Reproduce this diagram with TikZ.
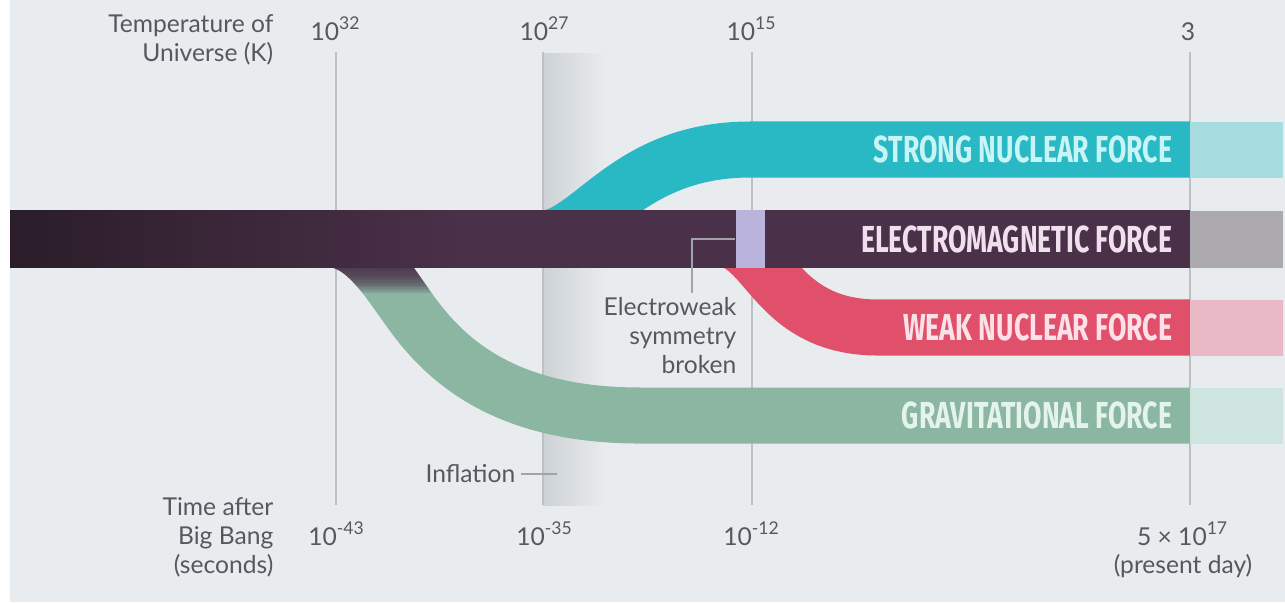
\documentclass[tikz,border=0pt]{standalone}
\usepackage{fontspec}
\setmainfont{Lato}
\newfontfamily\bandfont[FakeStretch=0.71]{Fira Sans}
\usetikzlibrary{positioning}

\definecolor{cPaper}{HTML}{E9ECEE}
\definecolor{cText}{HTML}{55595E}
\definecolor{cGrid}{HTML}{BDC1C5}
\definecolor{cInfl}{HTML}{CDD2D6}
\definecolor{cLead}{HTML}{A0A3A8}
\definecolor{cStrong}{HTML}{29B9C5}
\definecolor{cStrongTxt}{HTML}{C8F4F6}
\definecolor{cStrongFade}{HTML}{A7DCE1}
\definecolor{cEmDark}{HTML}{2B1D29}
\definecolor{cEm}{HTML}{4A3048}
\definecolor{cEmTxt}{HTML}{F0DFEC}
\definecolor{cEmFade}{HTML}{ABA8AE}
\definecolor{cWeak}{HTML}{E0506A}
\definecolor{cWeakTxt}{HTML}{FCE2E8}
\definecolor{cWeakFade}{HTML}{E7BAC5}
\definecolor{cGrav}{HTML}{8BB6A2}
\definecolor{cGravTxt}{HTML}{E4F4EC}
\definecolor{cGravFade}{HTML}{CEE5DF}
\definecolor{cEw}{HTML}{BAB4DC}

% dark on the left, plain from about a third of the way on
\pgfdeclarehorizontalshading{emshade}{100bp}{color(0bp)=(cEmDark); color(25bp)=(cEmDark);
  color(44bp)=(cEm); color(100bp)=(cEm)}

% centre line of the gravity ribbon (used twice: ribbon + dark root)
\def\gravpath{(328,239) .. controls (370,239) and (395,295) .. (424,329)
  .. controls (460,372) and (520,415.5) .. (640,415.5) -- (1190,415.5)}

\begin{document}
\begin{tikzpicture}[x=0.01cm,y=-0.01cm,
  font=\fontsize{7}{8.2}\selectfont,
  axislbl/.style={text=cText,inner sep=0pt,align=right},
  ticklbl/.style={text=cText,inner sep=0pt,anchor=base},
  gridline/.style={draw=cGrid,line width=0.35pt},
  band/.style={line width=0.56cm},
  bandlbl/.style={font=\bandfont\bfseries\fontsize{10.7}{12}\selectfont,inner sep=0pt,anchor=east},
  leader/.style={draw=cLead,line width=0.4pt}
]
\useasboundingbox (0,0) rectangle (1285,602);
\fill[white] (0,0) rectangle (1285,602);
\fill[cPaper] (10,0) rectangle (1285,602);

% inflation strip and time lines
\fill[left color=cInfl,right color=cPaper] (543,53) rectangle (606,505);
\foreach \x in {336,543,752,1190}
  \draw[gridline] (\x,52) -- (\x,505);

% forces splitting off
\draw[band,cStrong] (540,239) .. controls (590,239) and (625,149.5) .. (750,149.5) -- (1190,149.5);
\draw[band,cWeak] (720,239) .. controls (768,239) and (773,327.5) .. (878,327.5) -- (1190,327.5);
\draw[band,cGrav] \gravpath;
% dark root of gravity
\foreach \k in {1,...,14} {
  \begin{scope}
    \clip (300,267) rectangle (470,{267+1.8*\k});
    \draw[band,cEm,opacity=0.14] \gravpath;
  \end{scope}
}

% unified force
\fill[shading=emshade] (10,210.5) rectangle (1190,267.5);

% after today
\fill[cStrongFade] (1190,121.5) rectangle (1283,177.5);
\fill[cEmFade] (1190,210.5) rectangle (1283,267.5);
\fill[cWeakFade] (1190,299.5) rectangle (1283,355.5);
\fill[cGravFade] (1190,387.5) rectangle (1283,443.5);

\node[fill=cEw,inner sep=0pt,minimum width=0.29cm,minimum height=0.57cm] (ewbreak) at (750.5,239) {};

\node[bandlbl,text=cStrongTxt] (strong) at (1173,149.5) {STRONG NUCLEAR FORCE};
\node[bandlbl,text=cEmTxt] (em) at (1173,239) {ELECTROMAGNETIC FORCE};
\node[bandlbl,text=cWeakTxt] (weak) at (1173,327.5) {WEAK NUCLEAR FORCE};
\node[bandlbl,text=cGravTxt] (grav) at (1173,415.5) {GRAVITATIONAL FORCE};

% axis captions
\node[axislbl,anchor=north east] (tempcap) at (274,14) {Temperature of\\Universe (K)};
\node[axislbl,anchor=north east] (timecap) at (274,497) {Time after\\Big Bang\\(seconds)};

\node[ticklbl] (temp32) at (336,40) {10\textsuperscript{32}};
\node[ticklbl] (temp27) at (545,40) {10\textsuperscript{27}};
\node[ticklbl] (temp15) at (752,40) {10\textsuperscript{15}};
\node[ticklbl] (temp3) at (1188,40) {3};

\node[ticklbl] (time43) at (337,545) {10\textsuperscript{-43}};
\node[ticklbl] (time35) at (545,545) {10\textsuperscript{-35}};
\node[ticklbl] (time12) at (752,545) {10\textsuperscript{-12}};
\node[ticklbl] (time17) at (1183,545) {5 × 10\textsuperscript{17}};
\node[ticklbl,anchor=north,below=0.08cm of time17] (today) {(present day)};

% notes
\node[axislbl,anchor=north east] (ewnote) at (737,297) {Electroweak\\symmetry\\broken};
\draw[leader] ([xshift=-0.45cm,yshift=0.04cm]ewnote.north east) |- (ewbreak.west);
\node[axislbl,anchor=east] (inflnote) at (516,474) {Inflation};
\coordinate (inflmark) at (557,474);
\draw[leader] ([xshift=0.05cm]inflnote.east) -- (inflmark);
\end{tikzpicture}
\end{document}
